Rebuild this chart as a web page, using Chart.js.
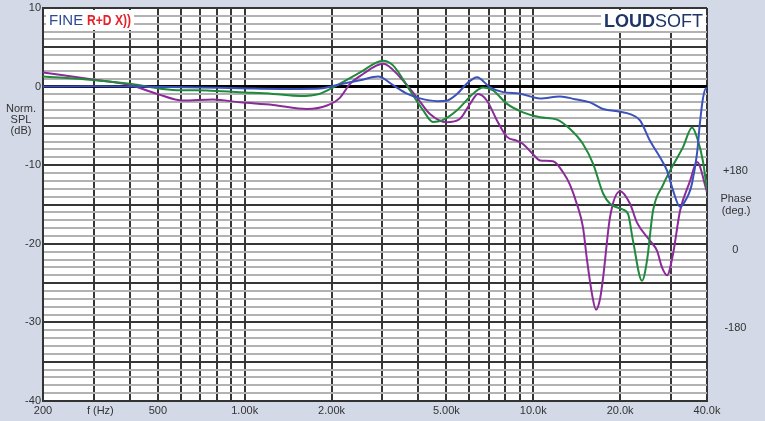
<!DOCTYPE html>
<html>
<head>
<meta charset="utf-8">
<script src="https://cdn.jsdelivr.net/npm/chart.js@4/dist/chart.umd.min.js"></script>
<style>
html,body{margin:0;padding:0;background:#d3d9e7;}
#wrap{width:765px;height:421px;position:relative;}
canvas{display:block;}
</style>
</head>
<body>
<div id="wrap"><canvas id="c" width="765" height="421"></canvas></div>
<script>
// ---- data (frequency in Hz, level in dB) ----
const freqBlue = [200,298,434,700,963,1555,1824,2140,2510,2898,3266,3650,4050,4640,5000,5442,5892,6383,7080,7855,8996,10560,12380,13960,15720,17460,20000,21640,23440,25380,27490,29080,30500,32260,34120,34950,35500,36940,37840,38730,39690,40000];
const splBlue  = [0.0,0.05,0.0,-0.1,-0.2,-0.3,-0.25,0.3,0.8,1.27,0.2,-0.9,-1.5,-1.85,-1.8,-0.95,0.4,1.2,-0.1,-0.7,-0.9,-1.5,-1.25,-1.6,-2.0,-2.85,-3.2,-3.5,-4.3,-6.9,-9.0,-10.7,-13.2,-15.3,-14.1,-13.2,-12.3,-8.5,-4.5,-1.5,-0.2,-0.3];

const freqGreen = [200,298,400,564,740,963,1254,1555,1824,1929,2089,2510,3015,3266,3740,4150,4492,4828,5442,6185,6698,7255,8110,9213,10560,12090,13410,14870,16110,17460,18450,20300,21300,22160,23820,24790,26000,28170,30500,33040,35500,37240,38730,40000];
const splGreen  = [1.3,0.85,0.35,-0.42,-0.5,-0.72,-0.93,-1.2,-0.9,-0.5,0.15,1.8,3.3,2.7,-0.5,-3.0,-4.5,-4.3,-3.0,-0.9,-0.1,-0.5,-2.2,-3.27,-3.9,-4.2,-5.4,-7.3,-9.8,-13.6,-14.9,-15.6,-16.2,-19.6,-24.7,-22.1,-15.8,-12.5,-10.0,-7.7,-5.2,-6.9,-9.5,-13.2];

const freqPurple = [200,298,400,497,611,777,963,1254,1644,1929,2140,2317,2571,3015,3455,3955,4386,5000,5574,6038,6435,6912,7486,8110,8784,9213,9978,10560,11710,12680,13410,14180,14870,15360,15980,16500,17040,17460,18450,20000,21640,22880,25380,26860,27930,29080,30500,32260,34950,36940,40000];
const splPurple  = [1.8,0.9,0.2,-0.93,-1.78,-1.65,-2.0,-2.33,-2.84,-2.4,-1.4,0.35,1.6,2.9,1.2,-1.4,-3.5,-4.55,-4.1,-2.2,-0.95,-1.8,-4.3,-6.4,-6.9,-7.3,-8.6,-9.4,-9.5,-10.9,-12.5,-15.0,-17.9,-22.1,-26.4,-28.4,-27.0,-24.3,-16.6,-13.3,-14.9,-17.3,-19.6,-20.9,-23.0,-24.0,-21.3,-15.8,-12.0,-9.6,-13.4];

// ---- axes / ticks ----
const xGridFreqs = [200,300,400,500,600,700,800,900,1000,2000,3000,4000,5000,6000,7000,8000,9000,10000,20000,30000,40000];
const xLabelFreqs = [200,316,500,1000,2000,5000,10000,20000,40000];
const xLabelTexts = ['200','f (Hz)','500','1.00k','2.00k','5.00k','10.0k','20.0k','40.0k'];
const yMin = -40, yMax = 10;
const phaseTicks = [-180,0,180];
const phaseLabels = ['-180','0','+180'];

const seriesColors = ['#3b52bd','#1f8a3b','#8b2a98'];

function toPts(fs, vs){ return fs.map((f,i)=>({x:f,y:vs[i]})); }

const FONT = 'Liberation Sans, Arial, sans-serif';
Chart.defaults.font.family = FONT;

function noPad(s){ s.paddingTop = 0; s.paddingBottom = 0; s.paddingLeft = 0; s.paddingRight = 0; }

const bgPlugin = {
  id:'bg',
  beforeDraw(chart){
    const c = chart.ctx, a = chart.chartArea;
    c.save();
    c.fillStyle = '#d3d9e7';
    c.fillRect(0,0,chart.width,chart.height);
    c.fillStyle = '#ffffff';
    c.fillRect(a.left,a.top,a.right-a.left,a.bottom-a.top);
    c.restore();
  },
  afterDraw(chart){
    const c = chart.ctx;
    c.save();
    c.fillStyle = '#ffffff';
    c.fillRect(46,10,88,20);
    c.fillRect(601,10,105,21);
    c.textBaseline = 'alphabetic';
    c.textAlign = 'left';
    c.font = '15px ' + FONT;
    c.fillStyle = '#2d4a98';
    c.fillText('FINE', 49, 25);
    c.font = 'bold 15px ' + FONT;
    c.fillStyle = '#e5222a';
    c.fillText('R+D X))', 87, 25, 44);
    c.font = 'bold 18px ' + FONT;
    const w1 = c.measureText('LOUD').width;
    c.font = '18px ' + FONT;
    const w2 = c.measureText('SOFT').width;
    const x0 = 703 - w1 - w2;
    c.fillStyle = '#1f3568';
    c.font = 'bold 18px ' + FONT;
    c.fillText('LOUD', x0, 27);
    c.font = '18px ' + FONT;
    c.fillText('SOFT', x0 + w1, 27);
    c.fillStyle = '#333333';
    c.font = '11px ' + FONT;
    c.textAlign = 'center';
    c.textBaseline = 'middle';
    c.fillText('Norm.', 21, 109);
    c.fillText('SPL', 21, 120);
    c.fillText('(dB)', 21, 131);
    c.fillText('Phase', 736, 199);
    c.fillText('(deg.)', 736, 211);
    c.restore();
  }
};

const chart = new Chart(document.getElementById('c'), {
  type:'line',
  data:{
    datasets:[
      {data:toPts(freqBlue,splBlue), borderColor:seriesColors[0]},
      {data:toPts(freqGreen,splGreen), borderColor:seriesColors[1]},
      {data:toPts(freqPurple,splPurple), borderColor:seriesColors[2]}
    ].map(d=>Object.assign(d,{borderWidth:2,pointRadius:0,tension:0.4,fill:false,cubicInterpolationMode:'monotone'}))
  },
  options:{
    responsive:false,
    animation:false,
    devicePixelRatio:1,
    layout:{padding:{top:8,left:0,right:0,bottom:0}},
    plugins:{legend:{display:false},tooltip:{enabled:false}},
    scales:{
      x:{
        type:'logarithmic', min:200, max:40000,
        afterBuildTicks(s){ s.ticks = xGridFreqs.concat([316]).sort((a,b)=>a-b).map(v=>({value:v})); },
        afterFit(s){ s.height = 20; noPad(s); },
        ticks:{
          autoSkip:false, maxRotation:0, padding:3, color:'#333', font:{size:11},
          callback(v){ const i = xLabelFreqs.indexOf(v); return i>=0 ? xLabelTexts[i] : ''; }
        },
        grid:{
          drawTicks:false, tickLength:0,
          color(ctx){ return (ctx.tick && ctx.tick.value===316) ? 'rgba(0,0,0,0)' : '#363636'; },
          lineWidth:2
        },
        border:{display:true,color:'#333',width:2}
      },
      y:{
        type:'linear', min:yMin, max:yMax, position:'left',
        afterBuildTicks(s){ const t=[]; for(let v=yMin; v<=yMax; v++) t.push({value:v}); s.ticks=t; },
        afterFit(s){ s.width = 43; noPad(s); },
        ticks:{
          autoSkip:false, padding:2, color:'#333', font:{size:11},
          callback(v){ return v%10===0 ? String(v) : ''; }
        },
        grid:{
          drawTicks:false, tickLength:0,
          color(ctx){ const v = ctx.tick ? ctx.tick.value : 1; if(v===0) return '#000'; return v%5===0 ? '#363636' : '#b2b2b2'; },
          lineWidth(ctx){ const v = ctx.tick ? ctx.tick.value : 1; return v===0 ? 3 : 2; }
        },
        border:{display:true,color:'#333',width:2}
      },
      y2:{
        type:'linear', min:(yMin+20)*18, max:(yMax+20)*18, position:'right',
        afterBuildTicks(s){ s.ticks = phaseTicks.map(v=>({value:v})); },
        afterFit(s){ s.width = 58; noPad(s); },
        ticks:{
          autoSkip:false, padding:16, crossAlign:'center', labelOffset:6, color:'#333', font:{size:11},
          callback(v){ const i = phaseTicks.indexOf(v); return i>=0 ? phaseLabels[i] : ''; }
        },
        grid:{display:false, drawTicks:false, tickLength:0},
        border:{display:false}
      }
    }
  },
  plugins:[bgPlugin]
});
</script>
</body>
</html>
